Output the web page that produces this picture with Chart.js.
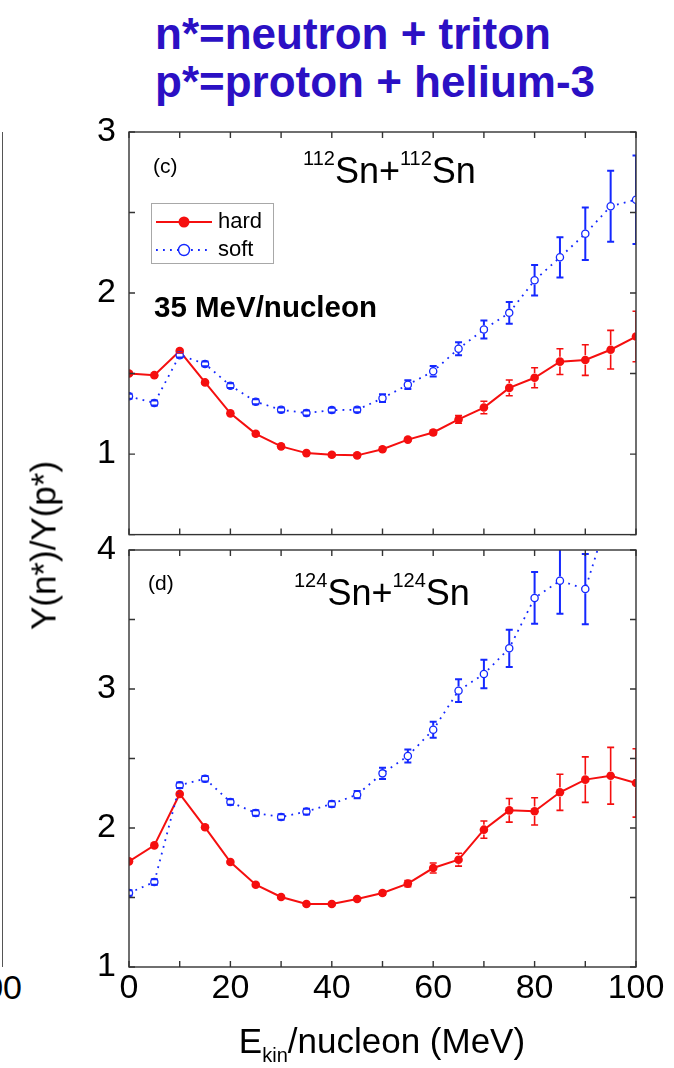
<!DOCTYPE html>
<html>
<head>
<meta charset="utf-8">
<script src="https://cdn.jsdelivr.net/npm/chart.js@4.4.0/dist/chart.umd.min.js"></script>
<style>
  body { margin: 0; width: 674px; height: 1068px; background: #fff; position: relative; overflow: hidden;
         font-family: "Liberation Sans", Arial, sans-serif; }
  canvas { position: absolute; left: 0; }
  .txt { position: absolute; line-height: 1; white-space: nowrap; color: #000; }
  .head { color: #2b10c4; font-weight: bold; font-size: 44px; left: 155px; }
  .sup { font-size: 20px; position: relative; top: -18px; }
  .sub { font-size: 20px; position: relative; top: 9px; }
  .edge { position: absolute; left: 2px; top: 132px; width: 0; height: 835px; border-left: 1.5px solid #555; }
</style>
</head>
<body>
<div class="txt head" style="top:12px">n*=neutron + triton</div>
<div class="txt head" style="top:60px">p*=proton + helium-3</div>

<div class="edge"></div>
<div class="txt" style="left:-40px; width:62px; text-align:right; top:970px; font-size:34px">100</div>

<canvas id="panelC" width="674" height="560" style="top:0"></canvas>
<canvas id="panelD" width="674" height="568" style="top:500px"></canvas>

<div class="txt" style="left:153px; top:155px; font-size:21px">(c)</div>
<div class="txt" style="left:303px; top:153px; font-size:36px"><span class="sup">112</span>Sn+<span class="sup">112</span>Sn</div>
<div class="txt" style="left:154px; top:292px; font-size:29.5px; font-weight:bold">35 MeV/nucleon</div>

<div class="txt" style="left:148px; top:572px; font-size:21px">(d)</div>
<div class="txt" style="left:294px; top:575px; font-size:36px"><span class="sup">124</span>Sn+<span class="sup">124</span>Sn</div>

<div class="txt" style="left:-107px; width:300px; text-align:center; top:528px; font-size:35px; transform:rotate(-90deg)">Y(n*)/Y(p*)</div>
<div class="txt" style="left:182px; width:400px; text-align:center; top:1023px; font-size:35px">E<span class="sub">kin</span>/nucleon (MeV)</div>

<script>
// beam energy per nucleon (MeV)
const energy = [0, 5, 10, 15, 20, 25, 30, 35, 40, 45, 50, 55, 60, 65, 70, 75, 80, 85, 90, 95, 100];

// (c) 112Sn+112Sn
const hardC = [1.50, 1.49, 1.64, 1.445, 1.253, 1.126, 1.048, 1.006, 0.996, 0.992, 1.030,
               1.090, 1.134, 1.215, 1.289, 1.411, 1.474, 1.574, 1.584, 1.648, 1.730];
const hardCErr = [0.01, 0.01, 0.01, 0.01, 0.01, 0.01, 0.01, 0.01, 0.01, 0.01, 0.01,
                  0.01, 0.014, 0.024, 0.039, 0.049, 0.062, 0.08, 0.095, 0.12, 0.157];
const softC = [1.359, 1.317, 1.614, 1.560, 1.425, 1.325, 1.275, 1.255, 1.273, 1.275, 1.347,
               1.431, 1.514, 1.654, 1.774, 1.877, 2.079, 2.222, 2.368, 2.539, 2.579];
const softCErr = [0.015, 0.015, 0.015, 0.015, 0.015, 0.015, 0.015, 0.015, 0.015, 0.015, 0.024,
                  0.027, 0.033, 0.04, 0.056, 0.068, 0.095, 0.125, 0.163, 0.22, 0.275];

// (d) 124Sn+124Sn
const hardD = [1.760, 1.875, 2.245, 2.005, 1.755, 1.592, 1.504, 1.453, 1.453, 1.489, 1.532,
               1.600, 1.712, 1.772, 1.988, 2.127, 2.120, 2.257, 2.348, 2.376, 2.324];
const hardDErr = [0.01, 0.01, 0.01, 0.01, 0.01, 0.01, 0.01, 0.01, 0.01, 0.01, 0.015,
                  0.022, 0.036, 0.046, 0.062, 0.085, 0.098, 0.13, 0.164, 0.204, 0.246];
const softD = [1.532, 1.612, 2.307, 2.355, 2.187, 2.108, 2.079, 2.118, 2.173, 2.240, 2.393,
               2.518, 2.707, 2.988, 3.108, 3.293, 3.655, 3.779, 3.719, 4.3, 4.5];
const softDErr = [0.02, 0.02, 0.02, 0.02, 0.02, 0.02, 0.02, 0.02, 0.02, 0.026, 0.04,
                  0.046, 0.058, 0.082, 0.103, 0.134, 0.186, 0.237, 0.253, 0.28, 0.3];

// tick labels
const xTickLabels = [0, 20, 40, 60, 80, 100];
const cTickLabels = [1, 2, 3];
const dTickLabels = [1, 2, 3, 4];

const FONT = "Liberation Sans";
const RED = "#f50f0f";
const BLUE = "#1428ff";

function pts(ys) {
  return energy.map((e, i) => ({ x: e, y: ys[i] }));
}

function hardSet(ys, errs) {
  return {
    label: "hard", data: pts(ys), errors: errs,
    borderColor: RED, backgroundColor: RED, borderWidth: 2,
    pointRadius: 4.3, pointBackgroundColor: RED, pointBorderColor: RED, pointBorderWidth: 0,
    errorWidth: 1.6, order: 2
  };
}

function softSet(ys, errs) {
  return {
    label: "soft", data: pts(ys), errors: errs,
    borderColor: BLUE, backgroundColor: "#fff", borderWidth: 1.8, borderDash: [1.8, 5.2],
    pointRadius: 3.6, pointBackgroundColor: "#fff", pointBorderColor: BLUE, pointBorderWidth: 1.3,
    errorWidth: 2, order: 1
  };
}

// box round the plot with inward ticks on every side
const framePlugin = {
  id: "frame",
  afterDraw(chart) {
    const { ctx, chartArea: a, scales: { x, y } } = chart;
    ctx.save();
    ctx.strokeStyle = "#333";
    ctx.lineWidth = 1.4;
    ctx.strokeRect(a.left, a.top, a.right - a.left, a.bottom - a.top);
    ctx.beginPath();
    x.ticks.forEach(t => {
      const px = x.getPixelForValue(t.value);
      ctx.moveTo(px, a.top); ctx.lineTo(px, a.top + 6);
      ctx.moveTo(px, a.bottom); ctx.lineTo(px, a.bottom - 6);
    });
    y.ticks.forEach(t => {
      const py = y.getPixelForValue(t.value);
      ctx.moveTo(a.left, py); ctx.lineTo(a.left + 6, py);
      ctx.moveTo(a.right, py); ctx.lineTo(a.right - 6, py);
    });
    ctx.stroke();
    ctx.restore();
  }
};

// vertical error bars with caps, kept out of the marker
const errorBarPlugin = {
  id: "errorBars",
  afterDatasetsDraw(chart) {
    const { ctx, chartArea: a } = chart;
    ctx.save();
    ctx.beginPath();
    ctx.rect(a.left, a.top, a.right - a.left, a.bottom - a.top);
    ctx.clip();
    chart.data.datasets.forEach((ds, i) => {
      const meta = chart.getDatasetMeta(i);
      const ys = chart.scales[meta.yAxisID];
      const r = ds.pointRadius + 0.5;
      ctx.strokeStyle = ds.borderColor;
      ctx.lineWidth = ds.errorWidth;
      ds.data.forEach((p, j) => {
        const e = ds.errors[j];
        const px = meta.data[j].x;
        const py = ys.getPixelForValue(p.y);
        const hi = ys.getPixelForValue(p.y + e);
        const lo = ys.getPixelForValue(p.y - e);
        ctx.beginPath();
        if (hi < py - r) { ctx.moveTo(px, hi); ctx.lineTo(px, py - r); }
        if (lo > py + r) { ctx.moveTo(px, py + r); ctx.lineTo(px, lo); }
        ctx.moveTo(px - 3.5, hi); ctx.lineTo(px + 3.5, hi);
        ctx.moveTo(px - 3.5, lo); ctx.lineTo(px + 3.5, lo);
        ctx.stroke();
      });
    });
    ctx.restore();
  }
};

// small boxed legend: line sample + marker per curve
const legendBox = {
  id: "legendBox",
  afterDraw(chart) {
    const ctx = chart.ctx;
    const [soft, hard] = chart.data.datasets;
    ctx.save();
    ctx.fillStyle = "#fff";
    ctx.fillRect(151, 203, 122, 60);
    ctx.strokeStyle = "#a8a8a8";
    ctx.lineWidth = 1;
    ctx.strokeRect(151.5, 203.5, 122, 60);

    ctx.strokeStyle = hard.borderColor;
    ctx.lineWidth = 2;
    ctx.beginPath(); ctx.moveTo(156, 222); ctx.lineTo(212, 222); ctx.stroke();
    ctx.fillStyle = hard.pointBackgroundColor;
    ctx.beginPath(); ctx.arc(184, 222, 5.5, 0, Math.PI * 2); ctx.fill();

    ctx.strokeStyle = soft.borderColor;
    ctx.setLineDash(soft.borderDash);
    ctx.lineWidth = 1.8;
    ctx.beginPath(); ctx.moveTo(156, 250); ctx.lineTo(212, 250); ctx.stroke();
    ctx.setLineDash([]);
    ctx.fillStyle = "#fff";
    ctx.lineWidth = 1.4;
    ctx.beginPath(); ctx.arc(184, 250, 5.5, 0, Math.PI * 2); ctx.fill(); ctx.stroke();

    ctx.fillStyle = "#000";
    ctx.font = "22px " + FONT;
    ctx.textBaseline = "middle";
    ctx.fillText(hard.label, 218, 222);
    ctx.fillText(soft.label, 218, 250);
    ctx.restore();
  }
};

function panel(id, hard, hardErr, soft, softErr, yMin, yMax, yLabels, bottom) {
  return new Chart(document.getElementById(id), {
    type: "line",
    data: { datasets: [softSet(soft, softErr), hardSet(hard, hardErr)] },
    options: {
      responsive: false,
      animation: false,
      layout: { padding: bottom ? { top: 50, right: 38, bottom: 0, left: 0 }
                                : { top: 132, right: 38, bottom: 10, left: 0 } },
      plugins: { legend: { display: false }, tooltip: { enabled: false } },
      elements: { line: { tension: 0 } },
      scales: {
        x: {
          type: "linear", min: 0, max: 100,
          grid: { display: false }, border: { display: false },
          afterFit(s) { s.height = bottom ? 101 : 0; },
          ticks: {
            display: bottom, stepSize: 10, padding: -7, maxRotation: 0, autoSkip: false,
            color: "#000", font: { family: FONT, size: 34 },
            callback: v => (xTickLabels.includes(v) ? v : "")
          }
        },
        y: {
          min: yMin, max: yMax,
          grid: { display: false }, border: { display: false },
          afterFit(s) { s.width = 129; },
          ticks: {
            stepSize: 0.5, padding: 5, autoSkip: false,
            color: "#000", font: { family: FONT, size: 34 },
            callback: v => (yLabels.includes(v) ? v : "")
          }
        }
      }
    },
    plugins: bottom ? [errorBarPlugin, framePlugin] : [errorBarPlugin, framePlugin, legendBox]
  });
}

panel("panelC", hardC, hardCErr, softC, softCErr, 0.5, 3, cTickLabels, false);
panel("panelD", hardD, hardDErr, softD, softDErr, 1, 4, dTickLabels, true);
</script>
</body>
</html>
